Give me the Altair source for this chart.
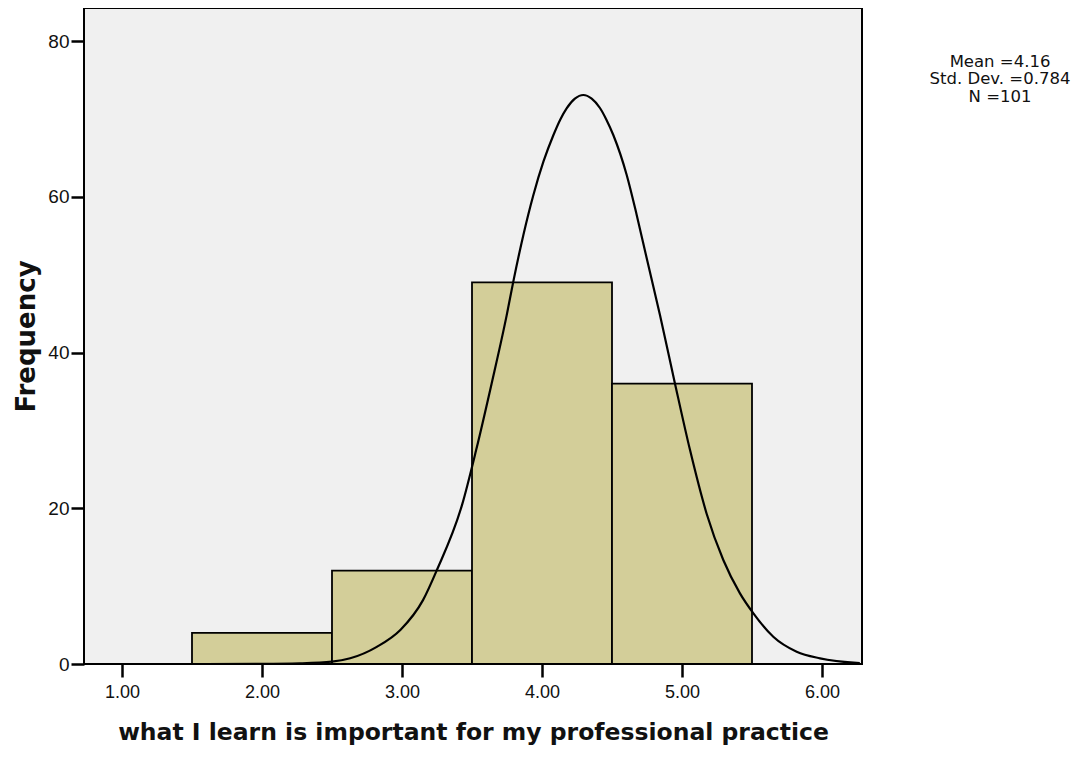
import altair as alt
import pandas as pd

# Histogram bins
bin_start = [1.5, 2.5, 3.5, 4.5]
bin_end = [2.5, 3.5, 4.5, 5.5]
counts = [4, 12, 49, 36]

# Normal curve points
curve_x = [0.73, 1.6, 2.0, 2.27, 2.5, 2.63, 2.82, 2.99, 3.15, 3.25, 3.43, 3.53, 3.64,
           3.748, 3.795, 3.867, 3.938, 4.010, 4.081, 4.13, 4.176, 4.235, 4.295, 4.355,
           4.414, 4.46, 4.51, 4.605, 4.676, 4.748, 4.843, 4.95, 5.057, 5.176, 5.295,
           5.414, 5.51, 5.652, 5.819, 5.986, 6.27]
curve_y = [0.0, 0.0, 0.02, 0.09, 0.3, 0.73, 2.2, 4.4, 8.2, 12.1, 20.5, 27.5, 36.0,
           44.8, 49.1, 55.1, 60.2, 64.5, 67.9, 69.9, 71.35, 72.6, 73.07, 72.6,
           71.4, 69.9, 67.9, 62.8, 57.7, 52.1, 44.8, 36.0, 27.5, 19.3, 13.35,
           9.07, 6.5, 3.5, 1.58, 0.73, 0.12]

stats_lines = ["Mean =4.16", "Std. Dev. =0.784", "N =101"]
stats_y = [54, 71, 89]

x_ticks = [1, 2, 3, 4, 5, 6]
y_ticks = [0, 20, 40, 60, 80]

FONT = "Liberation Sans"
TFONT = "DejaVu Sans"

bars_df = pd.DataFrame({"x0": bin_start, "x1": bin_end, "count": counts})
curve_df = pd.DataFrame({"x": curve_x, "y": curve_y})
stats_df = pd.DataFrame({"t": stats_lines, "py": stats_y})

xscale = alt.Scale(domain=[0.7286, 6.2857], nice=False, zero=False)
yscale = alt.Scale(domain=[0, 84.24], nice=False)

xaxis = alt.Axis(values=x_ticks, format=".2f", title="what I learn is important for my professional practice",
                 tickSize=13, tickWidth=2.5, tickColor="black", domain=False, grid=False,
                 labelFontSize=18, labelColor="#111", labelPadding=6, labelFont=FONT,
                 titleFont=TFONT, titleFontSize=23.5, titleFontWeight="bold", titleColor="#111",
                 titlePadding=19)
yaxis = alt.Axis(values=y_ticks, title="Frequency",
                 tickSize=13, tickWidth=2.5, tickColor="black", domain=False, grid=False,
                 labelFontSize=19, labelColor="#111", labelPadding=2, labelFont=FONT,
                 titleFont=TFONT, titleFontSize=26, titleFontWeight="bold", titleColor="#111",
                 titlePadding=8)

bars = alt.Chart(bars_df).mark_rect(fill="#d3ce99", stroke="black", strokeWidth=1.8).encode(
    x=alt.X("x0:Q", scale=xscale, axis=xaxis),
    x2="x1:Q",
    y=alt.Y("count:Q", scale=yscale, axis=yaxis),
    y2=alt.datum(0),
)

curve = alt.Chart(curve_df).mark_line(color="black", strokeWidth=2.2, interpolate="monotone", clip=True).encode(
    x=alt.X("x:Q", scale=xscale),
    y=alt.Y("y:Q", scale=yscale),
)

stats = alt.Chart(stats_df).mark_text(font=TFONT, fontSize=16.5, color="#111", align="center", baseline="middle").encode(
    x=alt.value(916),
    y=alt.Y("py:Q", scale=None),
    text="t:N",
)

chart = alt.layer(bars, curve, stats).properties(
    width=778,
    height=656,
    autosize=alt.AutoSizeParams(type="none"),
    padding={"left": 76, "top": 0, "right": 215, "bottom": 85},
).configure_view(
    fill="#f0f0f0", stroke="black", strokeWidth=2
)

chart.save("out.html", embed_options={"renderer": "svg", "actions": False})
